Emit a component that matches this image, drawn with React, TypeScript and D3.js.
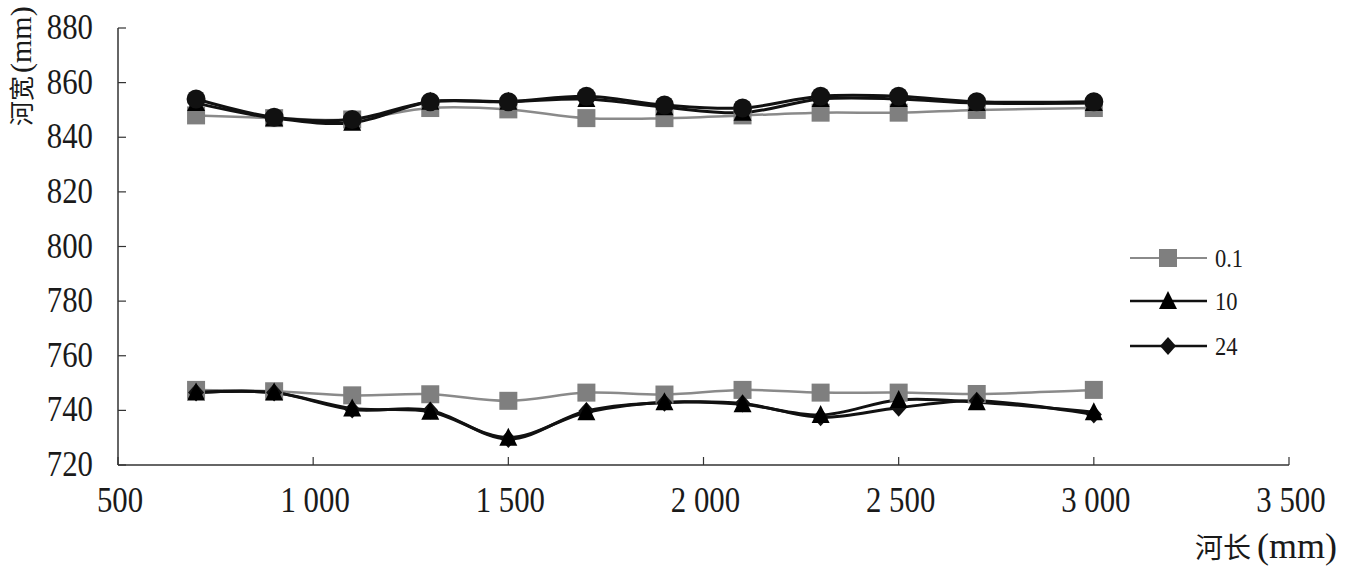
import React from "react";
import * as d3 from "d3";

const riverLength = [700, 900, 1100, 1300, 1500, 1700, 1900, 2100, 2300, 2500, 2700, 3000];

const upper01 = [848, 847, 846.5, 850.7, 850.2, 847, 847, 848, 849, 849, 850, 850.7];
const upper10 = [852.5, 847, 845.3, 853, 853, 854, 851, 849, 854, 854, 852.5, 852.5];
const upper24 = [854, 847.3, 846.5, 853, 853, 855, 851.8, 850.7, 855, 855, 853, 853];

const lower01 = [747.5, 747, 745.5, 745.9, 743.5, 746.5, 745.8, 747.5, 746.5, 746.5, 746, 747.5];
const lower10 = [746.5, 746.5, 740.7, 739.5, 730, 739.3, 743, 742.2, 738.3, 743.8, 743, 739.3];
const lower24 = [746.5, 746.5, 740.3, 740, 729.5, 739.8, 742.8, 742.5, 737.5, 741, 743.5, 738.5];

const xTicks = [500, 1000, 1500, 2000, 2500, 3000, 3500];
const xTickLabels = ["500", "1 000", "1 500", "2 000", "2 500", "3 000", "3 500"];
const yTicks = [720, 740, 760, 780, 800, 820, 840, 860, 880];
const legendLabels = ["0.1", "10", "24"];

const W = 1366;
const H = 588;
const X0 = 118, X1 = 1289, Y0 = 465, Y1 = 28;

const serif = "'Liberation Serif', 'Times New Roman', serif";
const cjk = "'Noto Sans CJK SC', sans-serif";
const GRAY = "#7f7f7f";
const LGRAY = "#8a8a8a";
const BLACK = "#111";

type Marker = "square" | "triangle" | "circle" | "diamond";

function MarkerShape({ kind, x, y, fill }: { kind: Marker; x: number; y: number; fill: string }) {
  if (kind === "square") return <rect x={x - 9} y={y - 9} width={18} height={18} fill={fill} />;
  if (kind === "circle") return <circle cx={x} cy={y} r={9.5} fill={fill} />;
  if (kind === "triangle")
    return <path d={`M${x},${y - 10}L${x + 9},${y + 8}L${x - 9},${y + 8}Z`} fill={fill} />;
  return <path d={`M${x},${y - 9}L${x + 8},${y}L${x},${y + 9}L${x - 8},${y}Z`} fill={fill} />;
}

export default function App() {
  const x = d3.scaleLinear().domain([500, 3500]).range([X0, X1]);
  const y = d3.scaleLinear().domain([720, 880]).range([Y0, Y1]);
  const line = d3
    .line<number>()
    .x((_, i) => x(riverLength[i]))
    .y((v) => y(v))
    .curve(d3.curveCatmullRom.alpha(0.5));

  const series: { vals: number[]; color: string; lineColor: string; width: number; marker: Marker }[] = [
    { vals: upper01, color: GRAY, lineColor: LGRAY, width: 2.5, marker: "square" },
    { vals: lower01, color: GRAY, lineColor: LGRAY, width: 2.5, marker: "square" },
    { vals: lower24, color: BLACK, lineColor: BLACK, width: 3, marker: "diamond" },
    { vals: lower10, color: "#000", lineColor: BLACK, width: 3, marker: "triangle" },
    { vals: upper10, color: "#000", lineColor: BLACK, width: 3, marker: "triangle" },
    { vals: upper24, color: BLACK, lineColor: BLACK, width: 3, marker: "circle" },
  ];

  const legend: { label: string; color: string; lineColor: string; width: number; marker: Marker; y: number }[] = [
    { label: legendLabels[0], color: GRAY, lineColor: LGRAY, width: 2, marker: "square", y: 258 },
    { label: legendLabels[1], color: "#000", lineColor: BLACK, width: 2.5, marker: "triangle", y: 301 },
    { label: legendLabels[2], color: BLACK, lineColor: BLACK, width: 2.5, marker: "diamond", y: 346 },
  ];

  return (
    <svg width={W} height={H} style={{ position: "absolute", left: 0, top: 0, background: "#fff" }}>
      <rect x={0} y={0} width={W} height={H} fill="#fff" />
      {/* axes */}
      <line x1={X0} y1={Y1} x2={X0} y2={Y0} stroke="#333" strokeWidth={1.5} />
      <line x1={X0} y1={Y0} x2={X1} y2={Y0} stroke="#333" strokeWidth={1.5} />
      {yTicks.map((t) => (
        <g key={"y" + t}>
          <line x1={X0} x2={X0 + 8} y1={y(t)} y2={y(t)} stroke="#333" strokeWidth={1.2} />
          <text
            transform={`translate(93,${y(t) + 11}) scale(0.88,1)`}
            textAnchor="end"
            fontFamily={serif}
            fontSize={35}
            fill="#1a1a1a"
          >
            {t}
          </text>
        </g>
      ))}
      {xTicks.map((t, i) => (
        <g key={"x" + t}>
          <line x1={x(t)} x2={x(t)} y1={Y0} y2={Y0 - 8} stroke="#333" strokeWidth={1.2} />
          <text
            transform={`translate(${x(t) + 2},512) scale(0.88,1)`}
            textAnchor="middle"
            fontFamily={serif}
            fontSize={35}
            fill="#1a1a1a"
          >
            {xTickLabels[i]}
          </text>
        </g>
      ))}
      {/* axis titles */}
      <text x={1195} y={558} fill="#1a1a1a">
        <tspan fontFamily={cjk} fontSize={28}>河长</tspan>
        <tspan fontFamily={serif} fontSize={36} dx={6}>(mm)</tspan>
      </text>
      <text transform="translate(31,126) rotate(-90)" fill="#1a1a1a">
        <tspan fontFamily={cjk} fontSize={25}>河宽</tspan>
        <tspan fontFamily={serif} fontSize={30} dx={3}>(mm)</tspan>
      </text>
      {/* series lines */}
      {series.map((s, i) => (
        <path key={"l" + i} d={line(s.vals) || ""} fill="none" stroke={s.lineColor} strokeWidth={s.width} />
      ))}
      {/* markers */}
      {series.map((s, i) => (
        <g key={"m" + i}>
          {s.vals.map((v, j) => (
            <MarkerShape key={j} kind={s.marker} x={x(riverLength[j])} y={y(v)} fill={s.color} />
          ))}
        </g>
      ))}
      {/* legend */}
      {legend.map((l) => (
        <g key={l.label}>
          <line x1={1130} x2={1207} y1={l.y} y2={l.y} stroke={l.lineColor} strokeWidth={l.width} />
          <MarkerShape kind={l.marker} x={1168} y={l.y} fill={l.color} />
          <text
            transform={`translate(1215,${l.y + 9}) scale(0.9,1)`}
            fontFamily={serif}
            fontSize={25}
            fill="#1a1a1a"
          >
            {l.label}
          </text>
        </g>
      ))}
    </svg>
  );
}
